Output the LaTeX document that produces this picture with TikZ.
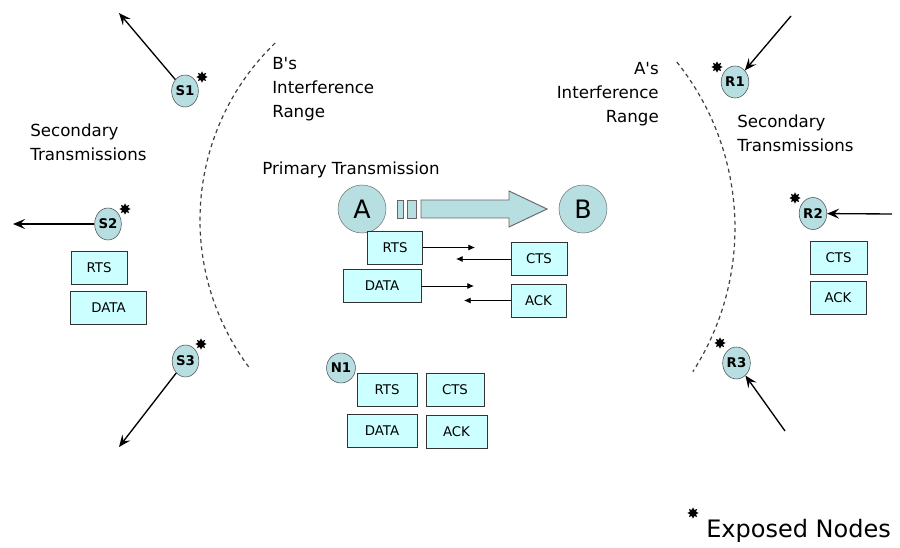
\documentclass[tikz,border=0pt]{standalone}
\usepackage{fontspec}
\setmainfont{DejaVu Sans}[Ligatures=TeXOff]
\usepackage{xcolor}
\usetikzlibrary{arrows.meta,shapes.geometric}
\definecolor{stnfill}{HTML}{B7DFE2}
\definecolor{pktfill}{HTML}{CCFFFF}

\begin{document}
\begin{tikzpicture}[
  x=0.75pt, y=-0.75pt,
  stn/.style={ellipse, draw=black!70, fill=stnfill, inner sep=0pt, minimum width=20pt, minimum height=24pt, font=\bfseries\fontsize{10}{10}\selectfont},
  endpt/.style={circle, draw=black!55, fill=stnfill, inner sep=0pt, minimum size=36pt, font=\fontsize{19}{20}\selectfont},
  pkt/.style={draw=black!80, fill=pktfill, inner sep=0pt, minimum height=24.75pt, font=\fontsize{10}{10}\selectfont},
  expo/.style={star, star points=8, star point ratio=1.7, fill=black, inner sep=0pt, minimum size=8.5pt},
  lbl/.style={align=left, inner sep=0pt, font=\fontsize{12.5}{18}\selectfont},
  edge/.style={-{Stealth[length=9pt, width=7.5pt, inset=3.5pt]}, line width=1pt},
  msg/.style={-{Latex[length=5pt, width=4.5pt]}, line width=0.6pt},
  irange/.style={dash pattern=on 3pt off 2.6pt, line width=0.9pt, draw=black!75},
  bigarr/.style={draw=black!60, fill=stnfill, line width=0.7pt}
]
\useasboundingbox (0,0) rectangle (900,548);

\draw[irange] (446,220) ++(226:246) arc[start angle=226, end angle=143, radius=246];
\draw[irange] (469,228) ++(-38.6:266) arc[start angle=-38.6, end angle=32.7, radius=266];

\node[lbl, anchor=west] (secL) at (30,142.5) {Secondary\\Transmissions};
\node[lbl, anchor=west] (secR) at (737,133) {Secondary\\Transmissions};
\node[lbl, anchor=west] (rangeB) at (272,89.5) {B's\\Interference\\Range};
\node[lbl, anchor=east, align=right] (rangeA) at (659,94) {A's\\Interference\\Range};
\node[lbl, anchor=west] (primary) at (262,170) {Primary Transmission};

\node[endpt] (A) at (362,209) {A};
\node[endpt] (B) at (583,209) {B};
\draw[bigarr] (397.5,200) rectangle (403.5,218);
\draw[bigarr] (407,200) rectangle (416.5,218);
\draw[bigarr] (421,200) -- (509,200) -- (509,191) -- (547,209) -- (509,227) -- (509,218) -- (421,218) -- cycle;

\node[pkt, minimum width=41.25pt] (rtsA) at (395,247.5) {RTS};
\node[pkt, minimum width=58.5pt] (dataA) at (382,286) {DATA};
\node[pkt, minimum width=42pt] (ctsB) at (539,259) {CTS};
\node[pkt, minimum width=41.25pt] (ackB) at (538.5,300.5) {ACK};

\coordinate (rtsA-to) at (475,247.5);
\coordinate (dataA-to) at (474,286);
\coordinate (ctsB-to) at (456,259);
\coordinate (ackB-to) at (464,300.5);
\draw[msg] (rtsA.east) -- (rtsA-to);
\draw[msg] (dataA.east) -- (dataA-to);
\draw[msg] (ctsB.west) -- (ctsB-to);
\draw[msg] (ackB.west) -- (ackB-to);

\node[stn] (S1) at (185,91) {S1};
\node[stn] (S2) at (108,224) {S2};
\node[stn] (S3) at (185.5,361) {S3};
\node[stn] (R1) at (735,82) {R1};
\node[stn] (R2) at (813,213.5) {R2};
\node[stn] (R3) at (736.5,363) {R3};
\node[stn, minimum width=21pt, minimum height=22.5pt] (N1) at (341,368) {N1};

\node[expo] (S1x) at (202,77) {};
\node[expo] (S2x) at (125,209) {};
\node[expo] (S3x) at (201,344) {};
\node[expo] (R1x) at (717,67) {};
\node[expo] (R2x) at (795,198) {};
\node[expo] (R3x) at (720,343) {};

\coordinate (S1-to) at (119,13);
\coordinate (S2-to) at (13,224);
\coordinate (S3-to) at (119,447);
\coordinate (R1-from) at (791,16);
\coordinate (R2-from) at (892,214);
\coordinate (R3-from) at (785,431);
\draw[edge] (S1) -- (S1-to);
\draw[edge] (S2) -- (S2-to);
\draw[edge] (S3) -- (S3-to);
\draw[edge] (R1-from) -- (R1);
\draw[edge] (R2-from) -- (R2);
\draw[edge] (R3-from) -- (R3);

\node[pkt, minimum width=42pt] (rtsS) at (99,267.5) {RTS};
\node[pkt, minimum width=57pt] (dataS) at (108.5,307.5) {DATA};
\node[pkt, minimum width=42.75pt] (ctsR) at (838.5,257.5) {CTS};
\node[pkt, minimum width=42pt] (ackR) at (838,297.5) {ACK};

\node[pkt, minimum width=45pt] (rtsN) at (387,390) {RTS};
\node[pkt, minimum width=43.5pt] (ctsN) at (455,390) {CTS};
\node[pkt, minimum width=52.5pt] (dataN) at (382,430.5) {DATA};
\node[pkt, minimum width=45.75pt] (ackN) at (456.5,432) {ACK};

\node[expo] (keyx) at (693,513) {};
\node[anchor=base west, inner sep=0pt, font=\fontsize{18}{20}\selectfont] (key) at (706,538) {Exposed Nodes};
\end{tikzpicture}
\end{document}
